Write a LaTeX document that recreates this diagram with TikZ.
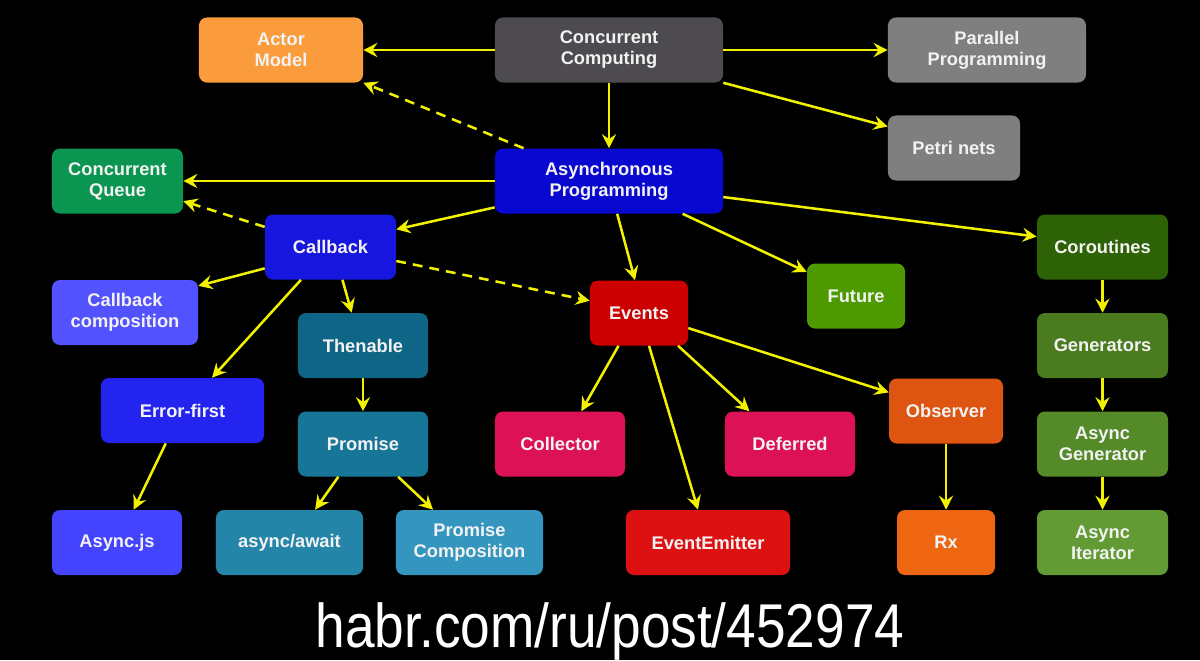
\documentclass[tikz,border=0pt]{standalone}
\usepackage{fontspec}
\setmainfont{Liberation Sans}
\newfontfamily\urlfont[FakeStretch=0.86]{Liberation Sans}
\usepackage{tikz}
\usetikzlibrary{arrows.meta}

\definecolor{arrowyellow}{HTML}{F2F200}
\definecolor{boxtext}{HTML}{F2F2F2}

\begin{document}
\begin{tikzpicture}[x=0.025cm, y=-0.025cm,
    box/.style={rounded corners=0.2cm, minimum height=1.625cm, align=center,
      text=boxtext, font=\fontsize{13}{15}\selectfont\bfseries, inner sep=2pt},
    link/.style={draw=arrowyellow, line width=1.8pt, -{Stealth[length=10pt,width=10pt,inset=3.5pt]}},
    weak/.style={link, dash pattern=on 7pt off 5pt}]
    \fill[black] (0,0) rectangle (1200,660);
    \useasboundingbox (0,0) rectangle (1200,660);

    \node[box, fill={rgb,255:red,250;green,155;blue,60}, minimum width=4.1cm] (actor) at (281,50) {Actor\\Model};
    \node[box, fill={rgb,255:red,77;green,75;blue,79}, minimum width=5.7cm] (cc) at (609,50) {Concurrent\\Computing};
    \node[box, fill={rgb,255:red,127;green,127;blue,127}, minimum width=4.95cm] (parallel) at (987,50) {Parallel\\Programming};
    \node[box, fill={rgb,255:red,127;green,127;blue,127}, minimum width=3.3cm] (petri) at (954,148) {Petri nets};
    \node[box, fill={rgb,255:red,8;green,8;blue,208}, minimum width=5.7cm] (async) at (609,181) {Asynchronous\\Programming};
    \node[box, fill={rgb,255:red,10;green,150;blue,80}, minimum width=3.275cm] (cqueue) at (117.5,181) {Concurrent\\Queue};
    \node[box, fill={rgb,255:red,22;green,22;blue,222}, minimum width=3.275cm] (callback) at (330.5,247) {Callback};
    \node[box, fill={rgb,255:red,46;green,98;blue,6}, minimum width=3.275cm] (coroutines) at (1102.5,247) {Coroutines};
    \node[box, fill={rgb,255:red,82;green,82;blue,255}, minimum width=3.65cm] (cbcomp) at (125,312.5) {Callback\\composition};
    \node[box, fill={rgb,255:red,76;green,154;blue,0}, minimum width=2.45cm] (future) at (856,296) {Future};
    \node[box, fill={rgb,255:red,204;green,0;blue,0}, minimum width=2.45cm] (events) at (639,313) {Events};
    \node[box, fill={rgb,255:red,14;green,101;blue,133}, minimum width=3.25cm] (thenable) at (363,345.5) {Thenable};
    \node[box, fill={rgb,255:red,74;green,124;blue,31}, minimum width=3.275cm] (generators) at (1102.5,345.5) {Generators};
    \node[box, fill={rgb,255:red,36;green,36;blue,240}, minimum width=4.075cm] (errorfirst) at (182.5,410.5) {Error-first};
    \node[box, fill={rgb,255:red,221;green,85;blue,17}, minimum width=2.85cm] (observer) at (946,411) {Observer};
    \node[box, fill={rgb,255:red,23;green,117;blue,152}, minimum width=3.25cm] (promise) at (363,444) {Promise};
    \node[box, fill={rgb,255:red,221;green,17;blue,85}, minimum width=3.25cm] (collector) at (560,444) {Collector};
    \node[box, fill={rgb,255:red,221;green,17;blue,85}, minimum width=3.25cm] (deferred) at (790,444) {Deferred};
    \node[box, fill={rgb,255:red,85;green,138;blue,40}, minimum width=3.275cm] (asyncgen) at (1102.5,444) {Async\\Generator};
    \node[box, fill={rgb,255:red,68;green,68;blue,255}, minimum width=3.25cm] (asyncjs) at (117,542.5) {Async.js};
    \node[box, fill={rgb,255:red,37;green,133;blue,168}, minimum width=3.675cm] (asyncawait) at (289.5,542.5) {async/await};
    \node[box, fill={rgb,255:red,52;green,150;blue,190}, minimum width=3.675cm] (pcomp) at (469.5,542.5) {Promise\\Composition};
    \node[box, fill={rgb,255:red,221;green,17;blue,17}, minimum width=4.1cm] (emitter) at (708,542.5) {EventEmitter};
    \node[box, fill={rgb,255:red,238;green,102;blue,17}, minimum width=2.45cm] (rx) at (946,542.5) {Rx};
    \node[box, fill={rgb,255:red,98;green,154;blue,52}, minimum width=3.275cm] (asynciter) at (1102.5,542.5) {Async\\Iterator};

    \node[text=white, anchor=base, font=\urlfont\fontsize{44}{50}\selectfont] (url) at (610,647) {habr.com/ru/post/452974};

    \draw[link] (cc) -- (actor);
    \draw[link] (cc) -- (parallel);
    \draw[link] (cc.south east) -- (petri.162);
    \draw[link] (cc) -- (async);
    \draw[weak] (async.159) -- (actor.south east);
    \draw[link] (async) -- (cqueue);
    \draw[weak] (callback.163) -- (cqueue.-17);
    \draw[link] (async.193) -- (callback.15);
    \draw[link] (async.-76) -- (events.97);
    \draw[link] (async.-24) -- (future.154);
    \draw[link] (async.-8) -- (coroutines.171);
    \draw[link] (callback.198) -- (cbcomp.20);
    \draw[link] (callback.228) -- (errorfirst.48);
    \draw[link] (callback.-70) -- (thenable.109);
    \draw[weak] (callback.-12) -- (events.166);
    \draw[link] (thenable) -- (promise);
    \draw[link] (promise.233) -- (asyncawait.52);
    \draw[link] (promise.-43) -- (pcomp.138);
    \draw[link] (errorfirst.243) -- (asyncjs.63);
    \draw[link] (events.238) -- (collector.57);
    \draw[link] (events.-73) -- (emitter.107);
    \draw[link] (events.-40) -- (deferred.141);
    \draw[link] (events.-17) -- (observer.162);
    \draw[link] (observer) -- (rx);
    \draw[link] (coroutines) -- (generators);
    \draw[link] (generators) -- (asyncgen);
    \draw[link] (asyncgen) -- (asynciter);
  \end{tikzpicture}
\end{document}
